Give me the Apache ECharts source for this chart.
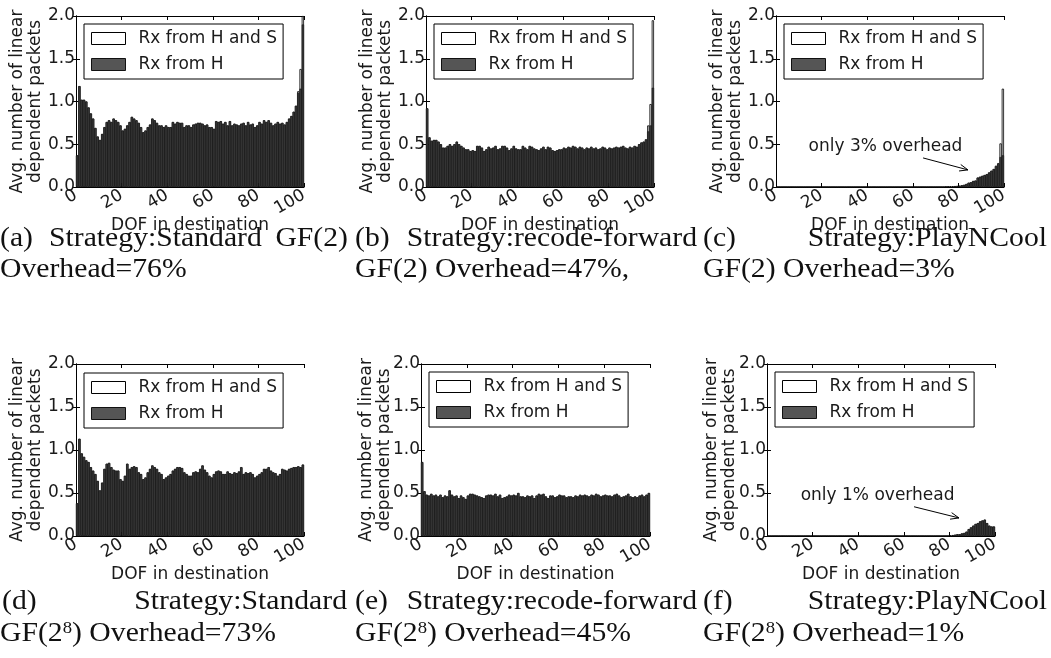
<!DOCTYPE html>
<html><head><meta charset="utf-8">
<script src="https://cdn.jsdelivr.net/npm/echarts@6/dist/echarts.min.js"></script>
<style>html,body{margin:0;padding:0;background:#fff}#c{width:1051px;height:658px}</style>
</head><body><div id="c"></div>
<script>
// ---------- DATA ----------
const dofBins = Array.from({length: 100}, (_, i) => String(i));   // DOF bins 0..99
const xTickMin = 0, xTickMax = 100, xTickStep = 20;
const yTickMin = 0, yTickMax = 2, yTickStep = 0.5;
const nameHS = 'Rx from H and S';
const nameH = 'Rx from H';
const xAxisTitle = 'DOF in destination';
const yAxisTitle = 'Avg. number of linear\ndependent packets';

// (a) Standard GF(2)
const hA = [0.37,1.18,1.02,1.02,1.0,0.93,0.86,0.8,0.69,0.59,
 0.55,0.62,0.7,0.76,0.78,0.76,0.8,0.78,0.76,0.72,
 0.66,0.68,0.72,0.76,0.82,0.8,0.78,0.75,0.7,0.64,
 0.66,0.7,0.73,0.8,0.78,0.75,0.72,0.72,0.7,0.72,
 0.7,0.7,0.76,0.74,0.76,0.75,0.75,0.7,0.72,0.72,
 0.7,0.73,0.74,0.75,0.75,0.74,0.72,0.73,0.7,0.7,
 0.68,0.77,0.76,0.77,0.74,0.76,0.72,0.77,0.72,0.74,
 0.73,0.72,0.74,0.75,0.72,0.76,0.73,0.74,0.7,0.72,
 0.76,0.74,0.78,0.76,0.78,0.75,0.72,0.74,0.76,0.74,
 0.75,0.73,0.76,0.8,0.83,0.88,0.95,1.1,1.15,1.9];
const hsA = [0.37,1.18,1.02,1.02,1.0,0.93,0.86,0.8,0.69,0.59,
 0.55,0.62,0.7,0.76,0.78,0.76,0.8,0.78,0.76,0.72,
 0.66,0.68,0.72,0.76,0.82,0.8,0.78,0.75,0.7,0.64,
 0.66,0.7,0.73,0.8,0.78,0.75,0.72,0.72,0.7,0.72,
 0.7,0.7,0.76,0.74,0.76,0.75,0.75,0.7,0.72,0.72,
 0.7,0.73,0.74,0.75,0.75,0.74,0.72,0.73,0.7,0.7,
 0.68,0.77,0.76,0.77,0.74,0.76,0.72,0.77,0.72,0.74,
 0.73,0.72,0.74,0.75,0.72,0.76,0.73,0.74,0.7,0.72,
 0.76,0.74,0.78,0.76,0.78,0.75,0.72,0.74,0.76,0.74,
 0.75,0.73,0.76,0.8,0.83,0.88,0.95,1.12,1.38,2.0];

// (b) recode-forward GF(2)
const hB = [0.92,0.58,0.54,0.55,0.55,0.53,0.5,0.46,0.46,0.48,
 0.5,0.48,0.5,0.53,0.5,0.48,0.46,0.44,0.44,0.42,
 0.43,0.42,0.48,0.48,0.46,0.42,0.44,0.47,0.45,0.46,
 0.48,0.44,0.45,0.48,0.48,0.46,0.43,0.45,0.48,0.45,
 0.44,0.44,0.48,0.46,0.44,0.48,0.47,0.45,0.44,0.43,
 0.45,0.47,0.44,0.47,0.46,0.43,0.42,0.43,0.44,0.44,
 0.46,0.45,0.47,0.46,0.48,0.47,0.45,0.47,0.46,0.44,
 0.46,0.45,0.47,0.45,0.46,0.44,0.45,0.47,0.46,0.44,
 0.46,0.45,0.46,0.47,0.46,0.47,0.48,0.46,0.45,0.47,
 0.46,0.48,0.47,0.5,0.52,0.53,0.55,0.65,0.72,1.16];
const hsB = [0.92,0.58,0.54,0.55,0.55,0.53,0.5,0.46,0.46,0.48,
 0.5,0.48,0.5,0.53,0.5,0.48,0.46,0.44,0.44,0.42,
 0.43,0.42,0.48,0.48,0.46,0.42,0.44,0.47,0.45,0.46,
 0.48,0.44,0.45,0.48,0.48,0.46,0.43,0.45,0.48,0.45,
 0.44,0.44,0.48,0.46,0.44,0.48,0.47,0.45,0.44,0.43,
 0.45,0.47,0.44,0.47,0.46,0.43,0.42,0.43,0.44,0.44,
 0.46,0.45,0.47,0.46,0.48,0.47,0.45,0.47,0.46,0.44,
 0.46,0.45,0.47,0.45,0.46,0.44,0.45,0.47,0.46,0.44,
 0.46,0.45,0.46,0.47,0.46,0.47,0.48,0.46,0.45,0.47,
 0.46,0.48,0.47,0.5,0.52,0.53,0.56,0.72,0.97,1.95];

// (c) PlayNCool GF(2)
const hC = [0,0,0,0,0,0,0,0,0,0, 0,0,0,0,0,0,0,0,0,0,
 0,0,0,0,0,0,0,0,0,0, 0,0,0,0,0,0,0,0,0,0,
 0,0,0,0,0,0,0,0,0,0, 0,0,0,0,0,0,0,0,0,0,
 0,0,0,0,0,0,0,0,0,0, 0,0,0,0,0.003,0.005,0.007,0.008,0.01,0.012,
 0.015,0.02,0.025,0.035,0.05,0.055,0.07,0.075,0.11,0.12,
 0.13,0.14,0.15,0.17,0.19,0.21,0.24,0.27,0.35,0.37];
const hsC = [0,0,0,0,0,0,0,0,0,0, 0,0,0,0,0,0,0,0,0,0,
 0,0,0,0,0,0,0,0,0,0, 0,0,0,0,0,0,0,0,0,0,
 0,0,0,0,0,0,0,0,0,0, 0,0,0,0,0,0,0,0,0,0,
 0,0,0,0,0,0,0,0,0,0, 0,0,0,0,0.003,0.005,0.007,0.008,0.01,0.012,
 0.015,0.02,0.025,0.035,0.05,0.055,0.07,0.075,0.11,0.12,
 0.13,0.14,0.15,0.17,0.19,0.21,0.25,0.28,0.51,1.15];

// (d) Standard GF(2^8)
const hD = [0.38,1.13,0.96,0.92,0.88,0.86,0.8,0.76,0.72,0.64,
 0.53,0.62,0.78,0.84,0.85,0.8,0.77,0.76,0.76,0.66,
 0.64,0.7,0.84,0.78,0.8,0.81,0.8,0.74,0.72,0.66,
 0.68,0.74,0.78,0.82,0.8,0.78,0.74,0.72,0.66,0.68,
 0.7,0.72,0.76,0.78,0.8,0.8,0.79,0.74,0.72,0.7,
 0.7,0.74,0.75,0.74,0.78,0.82,0.77,0.74,0.7,0.68,
 0.72,0.75,0.76,0.75,0.72,0.72,0.75,0.73,0.72,0.74,
 0.73,0.75,0.8,0.72,0.74,0.73,0.74,0.72,0.68,0.7,
 0.72,0.74,0.78,0.78,0.8,0.76,0.74,0.73,0.7,0.72,
 0.78,0.77,0.76,0.78,0.79,0.8,0.8,0.81,0.8,0.83];
const hsD = [0.38,1.13,0.96,0.92,0.88,0.86,0.8,0.76,0.72,0.64,
 0.53,0.62,0.78,0.84,0.85,0.8,0.77,0.76,0.76,0.66,
 0.64,0.7,0.84,0.78,0.8,0.81,0.8,0.74,0.72,0.66,
 0.68,0.74,0.78,0.82,0.8,0.78,0.74,0.72,0.66,0.68,
 0.7,0.72,0.76,0.78,0.8,0.8,0.79,0.74,0.72,0.7,
 0.7,0.74,0.75,0.74,0.78,0.82,0.77,0.74,0.7,0.68,
 0.72,0.75,0.76,0.75,0.72,0.72,0.75,0.73,0.72,0.74,
 0.73,0.75,0.8,0.72,0.74,0.73,0.74,0.72,0.68,0.7,
 0.72,0.74,0.78,0.78,0.8,0.76,0.74,0.73,0.7,0.72,
 0.78,0.77,0.76,0.78,0.79,0.8,0.8,0.81,0.8,0.83];

// (e) recode-forward GF(2^8)
const hE = [0.86,0.52,0.48,0.47,0.49,0.47,0.48,0.46,0.48,0.45,
 0.47,0.46,0.53,0.48,0.46,0.47,0.44,0.47,0.45,0.43,
 0.47,0.49,0.49,0.48,0.47,0.46,0.45,0.44,0.47,0.48,
 0.48,0.47,0.49,0.46,0.48,0.44,0.45,0.46,0.48,0.47,
 0.48,0.47,0.5,0.46,0.46,0.45,0.47,0.46,0.47,0.44,
 0.47,0.49,0.48,0.49,0.46,0.44,0.47,0.47,0.45,0.46,
 0.48,0.47,0.47,0.45,0.46,0.46,0.45,0.47,0.46,0.48,
 0.47,0.48,0.47,0.46,0.48,0.47,0.49,0.48,0.46,0.47,
 0.48,0.47,0.47,0.46,0.48,0.49,0.47,0.45,0.46,0.47,
 0.49,0.46,0.45,0.46,0.45,0.47,0.48,0.46,0.48,0.5];
const hsE = [0.86,0.52,0.48,0.47,0.49,0.47,0.48,0.46,0.48,0.45,
 0.47,0.46,0.53,0.48,0.46,0.47,0.44,0.47,0.45,0.43,
 0.47,0.49,0.49,0.48,0.47,0.46,0.45,0.44,0.47,0.48,
 0.48,0.47,0.49,0.46,0.48,0.44,0.45,0.46,0.48,0.47,
 0.48,0.47,0.5,0.46,0.46,0.45,0.47,0.46,0.47,0.44,
 0.47,0.49,0.48,0.49,0.46,0.44,0.47,0.47,0.45,0.46,
 0.48,0.47,0.47,0.45,0.46,0.46,0.45,0.47,0.46,0.48,
 0.47,0.48,0.47,0.46,0.48,0.47,0.49,0.48,0.46,0.47,
 0.48,0.47,0.47,0.46,0.48,0.49,0.47,0.45,0.46,0.47,
 0.49,0.46,0.45,0.46,0.45,0.47,0.48,0.46,0.48,0.5];

// (f) PlayNCool GF(2^8)
const hF = [0,0,0,0,0,0,0,0,0,0, 0,0,0,0,0,0,0,0,0,0,
 0,0,0,0,0,0,0,0,0,0, 0,0,0,0,0,0,0,0,0,0,
 0,0,0,0,0,0,0,0,0,0, 0,0,0,0,0,0,0,0,0,0,
 0,0,0,0,0,0,0,0,0,0, 0,0,0,0,0,0,0,0,0,0,
 0.005,0.01,0.015,0.02,0.02,0.03,0.035,0.05,0.08,0.1,
 0.12,0.14,0.15,0.17,0.18,0.19,0.15,0.12,0.11,0.11];
const hsF = [0,0,0,0,0,0,0,0,0,0, 0,0,0,0,0,0,0,0,0,0,
 0,0,0,0,0,0,0,0,0,0, 0,0,0,0,0,0,0,0,0,0,
 0,0,0,0,0,0,0,0,0,0, 0,0,0,0,0,0,0,0,0,0,
 0,0,0,0,0,0,0,0,0,0, 0,0,0,0,0,0,0,0,0,0,
 0.005,0.01,0.015,0.02,0.02,0.03,0.035,0.05,0.08,0.1,
 0.12,0.14,0.15,0.17,0.18,0.19,0.15,0.12,0.11,0.11];

const noteC = 'only 3% overhead';
const noteF = 'only 1% overhead';
// annotation anchors in data units [x, y]
const noteCText = [48, 0.47], noteCArrow = [[64.5, 0.34], [84.2, 0.2]];
const noteFText = [48.5, 0.465], noteFArrow = [[64.5, 0.34], [84.2, 0.21]];

// ---------- LAYOUT ----------
const panels = [
  {box: [76, 16, 228, 171], leg: [84, 24], gap: 31, hs: hsA, h: hA},
  {box: [426, 16, 228, 171], leg: [434, 24], gap: 31, hs: hsB, h: hB},
  {box: [776, 16, 228, 171], leg: [784, 24], gap: 31, hs: hsC, h: hC},
  {box: [76, 364, 228, 172], leg: [84, 373], gap: 31, hs: hsD, h: hD},
  {box: [421, 364, 229, 172], leg: [429, 372], gap: 27, hs: hsE, h: hE},
  {box: [767, 364, 228, 172], leg: [775, 372], gap: 28, hs: hsF, h: hF}
];
const FONT = 'DejaVu Sans';
const FS = 17;
const TXT = '#1a1a1a';
const grid = [], xAxis = [], yAxis = [], series = [], legend = [];
panels.forEach((p, k) => {
  grid.push({left: p.box[0], top: p.box[1], width: p.box[2], height: p.box[3], outerBoundsMode: 'none', containLabel: false});
  xAxis.push({type: 'category', gridIndex: k, data: dofBins, boundaryGap: true, show: false});
  xAxis.push({type: 'value', gridIndex: k, position: 'bottom', min: xTickMin, max: xTickMax, interval: xTickStep,
    axisLine: {show: true, lineStyle: {color: '#000', width: 1}},
    axisTick: {show: true, inside: true, length: 4, lineStyle: {color: '#000'}},
    splitLine: {show: false},
    axisLabel: {rotate: 30, margin: 7, fontFamily: FONT, fontSize: FS, color: TXT, showMinLabel: true, showMaxLabel: true},
    name: xAxisTitle, nameLocation: 'middle', nameGap: 30, nameMoveOverlap: false,
    nameTextStyle: {fontFamily: FONT, fontSize: FS, color: TXT}});
  xAxis.push({type: 'value', gridIndex: k, position: 'top', min: xTickMin, max: xTickMax, interval: xTickStep,
    axisLine: {show: true, lineStyle: {color: '#000', width: 1}},
    axisTick: {show: true, inside: true, length: 4, lineStyle: {color: '#000'}},
    splitLine: {show: false}, axisLabel: {show: false}});
  yAxis.push({type: 'value', gridIndex: k, position: 'left', min: yTickMin, max: yTickMax, interval: yTickStep,
    axisLine: {show: true, lineStyle: {color: '#000', width: 1}},
    axisTick: {show: true, inside: true, length: 4, lineStyle: {color: '#000'}},
    splitLine: {show: false},
    axisLabel: {margin: 1, fontFamily: FONT, fontSize: FS, color: TXT, formatter: v => v.toFixed(1)},
    name: yAxisTitle, nameLocation: 'middle', nameRotate: 90, nameGap: p.gap, nameMoveOverlap: false,
    nameTextStyle: {fontFamily: FONT, fontSize: FS, lineHeight: 18, color: TXT}});
  yAxis.push({type: 'value', gridIndex: k, position: 'right', min: yTickMin, max: yTickMax, interval: yTickStep,
    axisLine: {show: true, lineStyle: {color: '#000', width: 1}},
    axisTick: {show: true, inside: true, length: 4, lineStyle: {color: '#000'}},
    splitLine: {show: false}, axisLabel: {show: false}});
  series.push({type: 'bar', name: nameHS, xAxisIndex: 3 * k, yAxisIndex: 2 * k, data: p.hs,
    barCategoryGap: '0%', barGap: '-100%', silent: true,
    itemStyle: {color: '#fff', borderColor: '#000', borderWidth: 0.8}});
  series.push({type: 'bar', name: nameH, xAxisIndex: 3 * k, yAxisIndex: 2 * k, data: p.h,
    barCategoryGap: '0%', barGap: '-100%', silent: true,
    itemStyle: {color: '#3a3a3a', borderColor: '#111', borderWidth: 0.5}});
  legend.push({left: p.leg[0], top: p.leg[1], orient: 'vertical', selectedMode: false,
    icon: 'rect', itemWidth: 34, itemHeight: 12, itemGap: 9, padding: [6, 6, 6, 7],
    borderColor: '#000', borderWidth: 1, backgroundColor: '#fff', z: 10,
    textStyle: {fontFamily: FONT, fontSize: FS, lineHeight: 16, color: TXT, padding: [0, 0, 0, 8]},
    data: [{name: nameHS, itemStyle: {color: '#fff', borderColor: '#000', borderWidth: 1}},
           {name: nameH, itemStyle: {color: '#555', borderColor: '#111', borderWidth: 1}}]});
});

const chart = echarts.init(document.getElementById('c'), null, {renderer: 'canvas'});
chart.setOption({animation: false, backgroundColor: '#fff', grid, xAxis, yAxis, series, legend});

// ---------- captions & annotations ----------
const SERIF = 'Liberation Serif';
const CAP = 27, CAPSX = 1.1;
function cap(text, x, y, alignRight) {
  return {type: 'text', x, y, scaleX: CAPSX, z: 20, style: {text, fontFamily: SERIF, fontSize: CAP, fill: '#111',
    align: alignRight ? 'right' : 'left', verticalAlign: 'top',
    rich: {sup: {fontFamily: SERIF, fontSize: 17, verticalAlign: 'top', fill: '#111'}}}};
}
const g = [
  cap('(a)', 0, 225), cap('Strategy:Standard', 49, 225), cap('GF(2)', 348, 225, true),
  cap('(b)', 355, 225), cap('Strategy:recode-forward', 697, 225, true),
  cap('(c)', 703, 225), cap('Strategy:PlayNCool', 1047, 225, true),
  cap('Overhead=76%', 0, 256),
  cap('GF(2) Overhead=47%,', 355, 256),
  cap('GF(2) Overhead=3%', 703, 256),
  cap('(d)', 2, 588), cap('Strategy:Standard', 347, 588, true),
  cap('(e)', 355, 588), cap('Strategy:recode-forward', 697, 588, true),
  cap('(f)', 703, 588), cap('Strategy:PlayNCool', 1047, 588, true),
  cap('GF(2{sup|8}) Overhead=73%', 0, 620),
  cap('GF(2{sup|8}) Overhead=45%', 355, 620),
  cap('GF(2{sup|8}) Overhead=1%', 703, 620)
];
function note(k, text, tpos, arrow) {
  const ax = {xAxisIndex: 3 * k + 1, yAxisIndex: 2 * k};
  const t = chart.convertToPixel(ax, tpos);
  const a = chart.convertToPixel(ax, arrow[0]);
  const b = chart.convertToPixel(ax, arrow[1]);
  const ang = Math.atan2(b[1] - a[1], b[0] - a[0]);
  const L = 9, s = 0.38;
  const h1 = [b[0] - L * Math.cos(ang - s), b[1] - L * Math.sin(ang - s)];
  const h2 = [b[0] - L * Math.cos(ang + s), b[1] - L * Math.sin(ang + s)];
  g.push({type: 'text', x: t[0], y: t[1], z: 20, style: {text, fontFamily: FONT, fontSize: FS, fill: TXT, align: 'center', verticalAlign: 'middle'}});
  g.push({type: 'line', z: 20, shape: {x1: a[0], y1: a[1], x2: b[0], y2: b[1]}, style: {stroke: '#000', lineWidth: 1}});
  g.push({type: 'polyline', z: 20, shape: {points: [h1, b, h2]}, style: {stroke: '#000', lineWidth: 1, fill: null}});
}
note(2, noteC, noteCText, noteCArrow);
note(5, noteF, noteFText, noteFArrow);
chart.setOption({graphic: g});
</script></body></html>
